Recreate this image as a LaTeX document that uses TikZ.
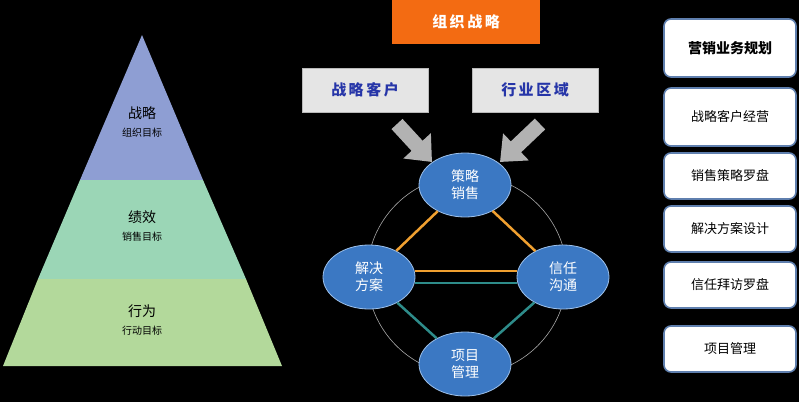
\documentclass[tikz,border=0pt]{standalone}
\usepackage{fontspec}
\setmainfont{Noto Sans CJK SC}
\usetikzlibrary{positioning,calc,arrows.meta,shapes.geometric}
\definecolor{stratblue}{HTML}{8E9ED3}
\definecolor{perfgreen}{HTML}{9BD6B6}
\definecolor{actgreen}{HTML}{B3D99B}
\definecolor{ballblue}{HTML}{3B78C3}
\definecolor{ballrim}{HTML}{9CC0EA}
\definecolor{boxrim}{HTML}{5F7FAE}
\definecolor{linkorange}{HTML}{F0A030}
\definecolor{linkteal}{HTML}{2E8C8A}
\definecolor{headorange}{HTML}{F36B12}
\definecolor{tagblue}{HTML}{2635A8}
\tikzset{
  ball/.style={ellipse, fill=ballblue, draw=ballrim, line width=0.8pt, minimum width=92pt, minimum height=64pt, inner sep=0pt, text=white, font=\fontsize{14}{17}\selectfont, align=center},
  tagbox/.style={fill=gray!20, draw=gray!55, minimum width=126pt, minimum height=44pt, text=tagblue, font=\bfseries\fontsize{15}{17}\selectfont},
  planbox/.style={rounded corners=7pt, fill=white, draw=boxrim, line width=1.6pt, minimum width=132pt, text=black, font=\fontsize{13}{15}\selectfont},
  fatarrow/.style={draw=gray!60, line width=15pt, -{Triangle[width=36pt,length=22pt]}},
  levtext/.style={align=center, font=\fontsize{10}{14}\selectfont},
}
\begin{document}
\begin{tikzpicture}[x=1pt,y=-1pt]
\useasboundingbox[fill=black] (0,0) rectangle (799,402);
% pyramid
\fill[stratblue] (142,35) -- (203,180) -- (80,180) -- cycle;
\fill[perfgreen] (80,180) -- (203,180) -- (246,279) -- (38,279) -- cycle;
\fill[actgreen] (38,279) -- (246,279) -- (282,366) -- (3,366) -- cycle;
\node[levtext] (lev1) at (142,122) {{\fontsize{14}{16}\selectfont 战略}\\[4pt]组织目标};
\node[levtext] (lev2) at (142,226) {{\fontsize{14}{16}\selectfont 绩效}\\[4pt]销售目标};
\node[levtext] (lev3) at (142,320) {{\fontsize{14}{16}\selectfont 行为}\\[4pt]行动目标};
% centre
\node[fill=headorange, minimum width=148pt, minimum height=44pt, text=white, font=\bfseries\fontsize{15}{17}\selectfont] (head) at (466,22) {组\,织\,战\,略};
\node[tagbox] (cust) at (365,90) {战\,略\,客\,户};
\node[tagbox] (area) at (535,90) {行\,业\,区\,域};
\draw[gray!70, line width=0.6pt] (467,275) circle (100);
\node[ball] (sell) at (465,185) {策略\\销售};
\node[ball] (solu) at (369,277) {解决\\方案};
\node[ball] (trust) at (563,277) {信任\\沟通};
\node[ball] (proj) at (465,364) {项目\\管理};
\draw[linkorange, line width=2.5pt] (sell) -- (solu);
\draw[linkorange, line width=2.5pt] (sell) -- (trust);
\draw[linkorange, line width=2.5pt] ($(solu.east)+(0,-6)$) -- ($(trust.west)+(0,-6)$);
\draw[linkteal, line width=2.5pt] ($(solu.east)+(0,6)$) -- ($(trust.west)+(0,6)$);
\draw[linkteal, line width=2.5pt] (solu) -- (proj);
\draw[linkteal, line width=2.5pt] (trust) -- (proj);
\coordinate (custtail) at (397,124);
\coordinate (areatail) at (540,124);
\coordinate (custtip) at (432,162);
\coordinate (areatip) at (500,162);
\draw[fatarrow] (custtail) -- (custtip);
\draw[fatarrow] (areatail) -- (areatip);
% right column
\node[planbox, minimum height=58pt, font=\bfseries\fontsize{14}{16}\selectfont] (plan1) at (730,48) {营销业务规划};
\node[planbox, minimum height=58pt] (plan2) at (730,117) {战略客户经营};
\node[planbox, minimum height=46pt] (plan3) at (730,176) {销售策略罗盘};
\node[planbox, minimum height=46pt] (plan4) at (730,229) {解决方案设计};
\node[planbox, minimum height=46pt] (plan5) at (730,285) {信任拜访罗盘};
\node[planbox, minimum height=46pt] (plan6) at (730,349) {项目管理};
\end{tikzpicture}
\end{document}
